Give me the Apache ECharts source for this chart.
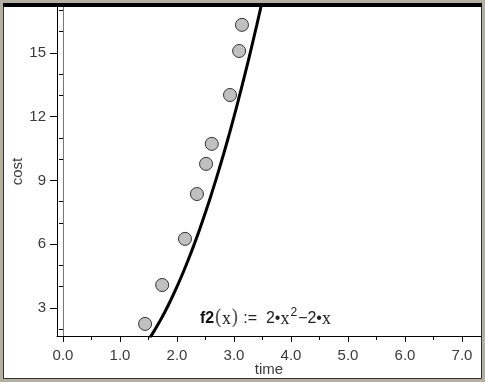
<!DOCTYPE html>
<html>
<head>
<meta charset="utf-8">
<script src="https://cdn.jsdelivr.net/npm/echarts@6/dist/echarts.min.js"></script>
<style>
html,body{margin:0;padding:0;background:#b3afa3;}
#c{width:485px;height:382px;}
</style>
</head>
<body>
<div id="c"></div>
<script>
// Scatter data (time, cost)
var timeVals = [1.44, 1.74, 2.14, 2.35, 2.51, 2.61, 2.93, 3.09, 3.14];
var costVals = [2.25, 4.08, 6.25, 8.36, 9.78, 10.72, 13.02, 15.09, 16.32];
// Curve f2(x) = 2x^2 - 2x, sampled values
var curveX = [1.5, 1.6, 1.7, 1.8, 1.9, 2.0, 2.1, 2.2, 2.3, 2.4, 2.5, 2.6, 2.7, 2.8, 2.9, 3.0, 3.1, 3.2, 3.3, 3.4, 3.5, 3.6];
var curveY = [1.5, 1.92, 2.38, 2.88, 3.42, 4, 4.62, 5.28, 5.98, 6.72, 7.5, 8.32, 9.18, 10.08, 11.02, 12, 13.02, 14.08, 15.18, 16.32, 17.5, 18.72];
// Axis ticks
var xLabels = [0, 1, 2, 3, 4, 5, 6, 7];
var xMinorTicks = [0.5, 1.5, 2.5, 3.5, 4.5, 5.5, 6.5];
var yLabels = [3, 6, 9, 12, 15];
var yMinorTicks = [2, 4, 5, 7, 8, 10, 11, 13, 14, 16, 17];
var xMin = -0.105, xMax = 7.333, yMin = 1.68, yMax = 17.16;

var scatterData = timeVals.map(function (t, i) { return [t, costVals[i]]; });
var curveData = curveX.map(function (x, i) { return [x, curveY[i]]; });

var txt = '#3a3a3a';
var fontFam = '"Liberation Sans", Arial, sans-serif';
var chart = echarts.init(document.getElementById('c'), null, {renderer: 'canvas'});
chart.setOption({
  backgroundColor: '#b3afa3',
  animation: false,
  graphic: [
    {type: 'rect', z: -10, shape: {x: 3.5, y: 3.5, width: 478, height: 375}, style: {fill: '#fff', stroke: '#333', lineWidth: 1}},
    {type: 'rect', z: 100, shape: {x: 3, y: 3, width: 479, height: 4}, style: {fill: '#000'}},
    {type: 'text', z: 50, left: 200, top: 307,
      style: {
        text: '{b|f2}{p|(}{i|x}{p|)}{n| :=  2•}{i|x}{s|2}{n|−2•}{i|x}',
        rich: {
          b: {fontFamily: fontFam, fontWeight: 'bold', fontSize: 16, fill: '#111'},
          p: {fontFamily: '"DejaVu Serif", serif', fontSize: 20, fill: '#555'},
          i: {fontFamily: '"Liberation Serif", serif', fontSize: 18, fill: '#222'},
          n: {fontFamily: fontFam, fontSize: 16, fill: '#222'},
          s: {fontFamily: fontFam, fontSize: 12, fill: '#222', verticalAlign: 'top', padding: [0, 1, 12, 1]}
        }
      }
    }
  ],
  grid: {left: 57, top: 7, right: 4, bottom: 46, outerBoundsMode: 'none', containLabel: false},
  xAxis: [
    {type: 'value', min: xMin, max: xMax, name: 'time', nameLocation: 'middle', nameGap: 26, nameMoveOverlap: false,
      nameTextStyle: {fontFamily: fontFam, fontSize: 15, color: txt},
      axisLine: {show: true, onZero: false, lineStyle: {color: '#000', width: 1}},
      axisTick: {show: true, length: 6, customValues: xLabels, lineStyle: {color: '#000'}},
      axisLabel: {customValues: xLabels, margin: 12, fontFamily: fontFam, fontSize: 15, color: txt,
        formatter: function (v) { return v.toFixed(1); }},
      splitLine: {show: false}},
    {type: 'value', min: xMin, max: xMax, position: 'bottom',
      axisLine: {show: false},
      axisTick: {show: true, length: 4, customValues: xMinorTicks, lineStyle: {color: '#000'}},
      axisLabel: {show: false}, splitLine: {show: false}}
  ],
  yAxis: [
    {type: 'value', min: yMin, max: yMax, name: 'cost', nameLocation: 'middle', nameGap: 32, nameRotate: 90, nameMoveOverlap: false,
      nameTextStyle: {fontFamily: fontFam, fontSize: 15, color: txt},
      axisLine: {show: true, onZero: false, lineStyle: {color: '#000', width: 1}},
      axisTick: {show: true, length: 7, customValues: yLabels, lineStyle: {color: '#000'}},
      axisLabel: {customValues: yLabels, margin: 11, fontFamily: fontFam, fontSize: 15, color: txt},
      splitLine: {show: false}},
    {type: 'value', min: yMin, max: yMax, position: 'left',
      axisLine: {show: false},
      axisTick: {show: true, length: 4, customValues: yMinorTicks, lineStyle: {color: '#000'}},
      axisLabel: {show: false}, splitLine: {show: false}}
  ],
  series: [
    {type: 'line', data: curveData, showSymbol: false, smooth: true, clip: true,
      lineStyle: {color: '#000', width: 3}, z: 3,
      markLine: {silent: true, symbol: 'none', label: {show: false}, emphasis: {disabled: true},
        lineStyle: {color: '#777', width: 1, type: 'solid', opacity: 1}, data: [{xAxis: 0}]}},
    {type: 'scatter', data: scatterData, symbol: 'circle', symbolSize: 13, z: 4,
      itemStyle: {color: '#c0c0c0', borderColor: '#333', borderWidth: 1, opacity: 1}}
  ]
});
</script>
</body>
</html>
